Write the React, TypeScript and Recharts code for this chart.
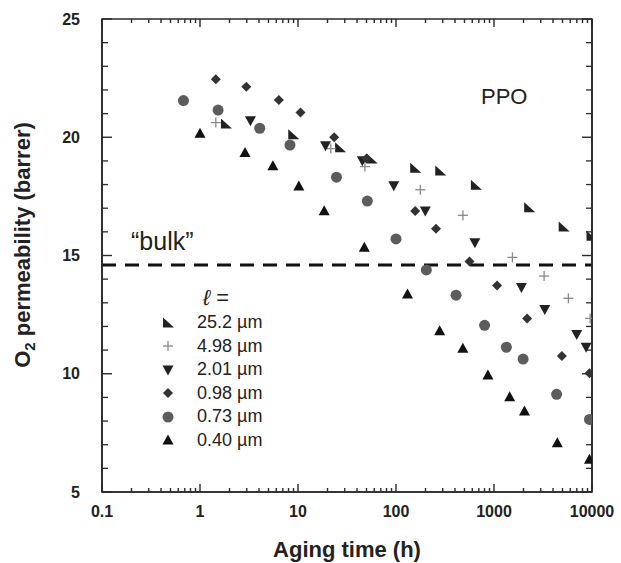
import React from "react";
import {
  ScatterChart,
  Scatter,
  XAxis,
  YAxis,
  ReferenceLine,
  ReferenceArea,
  Legend,
  Label,
} from "recharts";

// film thickness labels (legend order)
const thicknessLabels = ["25.2 µm", "4.98 µm", "2.01 µm", "0.98 µm", "0.73 µm", "0.40 µm"];

// aging time (h) and O2 permeability (barrer) per film
const t252 = [1.84, 8.95, 26.9, 56.5, 157, 283, 653, 2287, 5140, 9890];
const p252 = [20.56, 20.11, 19.56, 19.08, 18.69, 18.57, 17.97, 17.02, 16.2, 15.81];

const t498 = [1.45, 21.6, 48.2, 177, 482, 1542, 3243, 5740, 9570];
const p498 = [20.62, 19.52, 18.76, 17.78, 16.7, 14.92, 14.13, 13.19, 12.34];

const t201 = [3.27, 19.1, 45.3, 94.9, 199, 638, 1905, 3296, 6982, 8710];
const p201 = [20.7, 19.64, 19.01, 17.95, 16.88, 15.54, 13.65, 12.72, 11.66, 11.12];

const t098 = [1.45, 2.97, 6.38, 10.6, 23.4, 50, 157, 256, 562, 1074, 2178, 4930, 9420];
const p098 = [22.45, 22.14, 21.57, 21.05, 20.0, 19.1, 16.88, 16.13, 14.75, 13.73, 12.34, 10.75, 10.02];

const t073 = [0.678, 1.53, 4.07, 8.28, 24.7, 51, 100, 204, 410, 802, 1337, 1982, 4355, 9420];
const p073 = [21.55, 21.15, 20.38, 19.67, 18.31, 17.3, 15.7, 14.39, 13.32, 12.05, 11.12, 10.62, 9.13, 8.07];

const t040 = [1.0, 2.88, 5.54, 10.2, 18.5, 47.5, 131, 279, 481, 867, 1445, 2046, 4426, 9420];
const p040 = [20.17, 19.35, 18.8, 17.94, 16.89, 15.35, 13.37, 11.82, 11.08, 9.95, 9.03, 8.42, 7.08, 6.38];

const bulkValue = 14.6;

// axis ticks
const xDomain = [0.1, 10000];
const yDomain = [5, 25];
const xTicks = [0.1, 1, 10, 100, 1000, 10000];
const xMinorTicks = [
  0.2, 0.3, 0.4, 0.5, 0.6, 0.7, 0.8, 0.9,
  2, 3, 4, 5, 6, 7, 8, 9,
  20, 30, 40, 50, 60, 70, 80, 90,
  200, 300, 400, 500, 600, 700, 800, 900,
  2000, 3000, 4000, 5000, 6000, 7000, 8000, 9000,
];
const yTicks = [5, 10, 15, 20, 25];
const yMinorTicks = [6, 7, 8, 9, 11, 12, 13, 14, 16, 17, 18, 19, 21, 22, 23, 24];

const FONT = '"Liberation Sans", Arial, Helvetica, sans-serif';
const FRAME = "#2a2a2a";
const W = 621;
const H = 563;
const TOP = 19;
const X_AXIS_H = 71;
const BOTTOM = H - X_AXIS_H;
const THIN = 0.01; // mirror axes take no room but must have a size to render
const noLabel = () => null; // tick marks only

type Kind = "corner" | "plus" | "down" | "diamond" | "circle" | "up";

const Glyph = ({ kind, cx, cy }: { kind: Kind; cx: number; cy: number }) => {
  switch (kind) {
    case "corner":
      return <polygon points={`${cx - 5},${cy - 5.5} ${cx - 5},${cy + 4.5} ${cx + 6},${cy + 4.5}`} fill="#222" />;
    case "plus":
      return (
        <g stroke="#8a8a8a" strokeWidth={1.3}>
          <line x1={cx - 5} y1={cy} x2={cx + 5} y2={cy} />
          <line x1={cx} y1={cy - 5} x2={cx} y2={cy + 5} />
        </g>
      );
    case "down":
      return <polygon points={`${cx - 5.5},${cy - 4.5} ${cx + 5.5},${cy - 4.5} ${cx},${cy + 5.5}`} fill="#222" />;
    case "diamond":
      return <polygon points={`${cx},${cy - 5} ${cx + 5},${cy} ${cx},${cy + 5} ${cx - 5},${cy}`} fill="#333" />;
    case "circle":
      return <circle cx={cx} cy={cy} r={5.5} fill="#5c5c5c" />;
    default:
      return <polygon points={`${cx - 5.5},${cy + 4.5} ${cx + 5.5},${cy + 4.5} ${cx},${cy - 5.5}`} fill="#111" />;
  }
};

const toPoints = (t: number[], p: number[]) => t.map((x, i) => ({ x, y: p[i] }));

const series: { kind: Kind; data: { x: number; y: number }[] }[] = [
  { kind: "corner", data: toPoints(t252, p252) },
  { kind: "plus", data: toPoints(t498, p498) },
  { kind: "down", data: toPoints(t201, p201) },
  { kind: "diamond", data: toPoints(t098, p098) },
  { kind: "circle", data: toPoints(t073, p073) },
  { kind: "up", data: toPoints(t040, p040) },
];

const allXTicks = [...xTicks, ...xMinorTicks].sort((a, b) => a - b);

const tickStyle = { fontFamily: FONT, fontSize: 16, fontWeight: 700, fill: "#222" };

// x tick: label for decades, inward marks on bottom and top edges
const XTick = (props: any) => {
  const x = Number(props.x);
  const y = Number(props.y);
  const value = props.payload?.value;
  const major = xTicks.includes(value);
  const len = major ? 8 : 4;
  return (
    <g>
      <path
        d={`M${x},${BOTTOM}V${BOTTOM - len}M${x},${TOP}V${TOP + len}`}
        stroke={FRAME}
        strokeWidth={1.4}
        fill="none"
      />
      {major && (
        <text x={x} y={y} dy="0.71em" textAnchor="middle" {...tickStyle}>
          {String(value)}
        </text>
      )}
    </g>
  );
};

const LegendBox = () => (
  <div style={{ fontFamily: FONT, color: "#222" }}>
    <div style={{ height: 27, lineHeight: "27px", paddingLeft: 45, fontSize: 22 }}>
      <span style={{ fontStyle: "italic" }}>ℓ</span> =
    </div>
    {series.map((s, i) => (
      <div key={i} style={{ display: "flex", alignItems: "center", height: 23.5 }}>
        <svg width={20} height={20}>
          <Glyph kind={s.kind} cx={10} cy={10} />
        </svg>
        <span style={{ marginLeft: 19, fontSize: 18 }}>{thicknessLabels[i]}</span>
      </div>
    ))}
  </div>
);

const YTitle = () => {
  const cx = 30;
  const cy = 245;
  return (
    <text
      x={cx}
      y={cy}
      transform={`rotate(-90, ${cx}, ${cy})`}
      textAnchor="middle"
      fontFamily={FONT}
      fontWeight={700}
      fontSize={22}
      fill="#222"
    >
      O
      <tspan fontSize={15} dy={5}>2</tspan>
      <tspan dy={-5}> permeability (barrer)</tspan>
    </text>
  );
};

const App: React.FC = () => {
  return (
    <div style={{ position: "absolute", left: 0, top: 0, background: "#fff" }}>
      <ScatterChart width={W} height={H} margin={{ top: TOP, right: 29, bottom: 0, left: 0 }}>
        <XAxis
          xAxisId="main"
          dataKey="x"
          type="number"
          scale="log"
          domain={xDomain}
          allowDataOverflow
          ticks={allXTicks}
          interval={0}
          tick={XTick}
          tickLine={false}
          tickSize={0}
          tickMargin={14}
          axisLine={{ stroke: FRAME, strokeWidth: 1.6 }}
          height={X_AXIS_H}
        >
          <Label
            value="Aging time (h)"
            position="insideBottom"
            offset={6}
            style={{ fontFamily: FONT, fontSize: 22, fontWeight: 700, fill: "#222" }}
          />
        </XAxis>
        <YAxis
          yAxisId="main"
          dataKey="y"
          type="number"
          domain={yDomain}
          allowDataOverflow
          ticks={yTicks}
          interval={0}
          tick={tickStyle}
          tickLine={false}
          tickSize={0}
          tickMargin={22}
          axisLine={{ stroke: FRAME, strokeWidth: 1.6 }}
          width={102}
          label={<YTitle />}
        />

        {/* inward y tick marks on left and right edges */}
        <YAxis yAxisId="lMaj" type="number" domain={yDomain} allowDataOverflow orientation="left" mirror width={THIN}
          ticks={yTicks} interval={0} tick={noLabel} tickSize={10} axisLine={false} tickLine={{ stroke: FRAME, strokeWidth: 1.4 }} />
        <YAxis yAxisId="lMin" type="number" domain={yDomain} allowDataOverflow orientation="left" mirror width={THIN}
          ticks={yMinorTicks} interval={0} tick={noLabel} tickSize={6} axisLine={false} tickLine={{ stroke: FRAME, strokeWidth: 1.3 }} />
        <YAxis yAxisId="rMaj" type="number" domain={yDomain} allowDataOverflow orientation="right" mirror width={THIN}
          ticks={yTicks} interval={0} tick={noLabel} tickSize={10} axisLine={{ stroke: FRAME, strokeWidth: 1.6 }} tickLine={{ stroke: FRAME, strokeWidth: 1.4 }} />
        <YAxis yAxisId="rMin" type="number" domain={yDomain} allowDataOverflow orientation="right" mirror width={THIN}
          ticks={yMinorTicks} interval={0} tick={noLabel} tickSize={6} axisLine={false} tickLine={{ stroke: FRAME, strokeWidth: 1.3 }} />

        {/* plot frame */}
        <ReferenceArea
          xAxisId="main"
          yAxisId="main"
          x1={xDomain[0]}
          x2={xDomain[1]}
          y1={yDomain[0]}
          y2={yDomain[1]}
          ifOverflow="visible"
          fill="#ffffff"
          fillOpacity={0}
          stroke={FRAME}
          strokeWidth={1.6}
          strokeOpacity={1}
        />

        <ReferenceLine
          xAxisId="main"
          yAxisId="main"
          y={bulkValue}
          stroke="#111"
          strokeWidth={3}
          strokeDasharray="14 9"
        />

        {series.map((s, i) => (
          <Scatter
            key={s.kind}
            name={thicknessLabels[i]}
            xAxisId="main"
            yAxisId="main"
            data={s.data}
            isAnimationActive={false}
            shape={(p: any) => <Glyph kind={s.kind} cx={p.cx} cy={p.cy} />}
          />
        ))}

        <Legend
          layout="vertical"
          align="center"
          verticalAlign="middle"
          wrapperStyle={{ left: 158, top: 284, width: "auto", height: "auto" }}
          content={() => <LegendBox />}
        />
      </ScatterChart>

      {/* annotations */}
      <svg
        width={W}
        height={H}
        style={{ position: "absolute", left: 0, top: 0, pointerEvents: "none" }}
      >
        <text x={481} y={104} fontFamily={FONT} fontSize={22} fill="#222">PPO</text>
        <text x={131} y={250} fontFamily={FONT} fontSize={25} fill="#222">“bulk”</text>
      </svg>
    </div>
  );
};

export default App;
